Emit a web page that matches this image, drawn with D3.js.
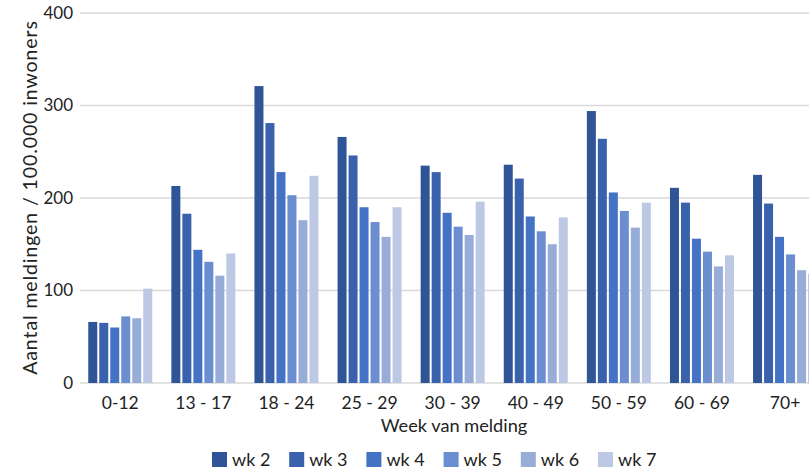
<!DOCTYPE html>
<html>
<head>
<meta charset="utf-8">
<script src="https://cdn.jsdelivr.net/npm/d3@7"></script>
<style>
  html, body { margin: 0; padding: 0; background: #fff; }
  svg { display: block; font-family: Lato, "Open Sans", sans-serif; }
</style>
</head>
<body>
<svg id="chart" width="809" height="469"></svg>
<script>
const categories = ["0-12", "13 - 17", "18 - 24", "25 - 29", "30 - 39", "40 - 49", "50 - 59", "60 - 69", "70+"];
const seriesNames = ["wk 2", "wk 3", "wk 4", "wk 5", "wk 6", "wk 7"];
const wk2 = [66, 213, 321, 266, 235, 236, 294, 211, 225];
const wk3 = [65, 183, 281, 246, 228, 221, 264, 195, 194];
const wk4 = [60, 144, 228, 190, 184, 180, 206, 156, 158];
const wk5 = [72, 131, 203, 174, 169, 164, 186, 142, 139];
const wk6 = [70, 116, 176, 158, 160, 150, 168, 126, 122];
const wk7 = [102, 140, 224, 190, 196, 179, 195, 138, 118];
const seriesValues = [wk2, wk3, wk4, wk5, wk6, wk7];
const colors = ["#2f5597", "#3a62ac", "#4472c4", "#6a8ecf", "#98acd8", "#bdc8e5"];
const yTicks = [0, 100, 200, 300, 400];

const svg = d3.select("#chart");
const plotLeft = 78.7, plotRight = 826.6, plotTop = 13, plotBottom = 383;

const x0 = d3.scaleBand().domain(categories).range([plotLeft, plotRight]).paddingInner(0.23).paddingOuter(0.115);
const x1 = d3.scaleBand().domain(seriesNames).range([0, x0.bandwidth()]).paddingInner(0.182);
const y = d3.scaleLinear().domain([0, 400]).range([plotBottom, plotTop]);

// gridlines
svg.append("g").selectAll("line").data(yTicks).join("line")
  .attr("x1", 80).attr("x2", 809)
  .attr("y1", d => y(d)).attr("y2", d => y(d))
  .attr("stroke", "#d9d9d9").attr("stroke-width", 1.5);

// y axis labels
const yAxis = d3.axisLeft(y).tickValues(yTicks).tickSize(0).tickPadding(0);
const yg = svg.append("g").attr("transform", "translate(73,0)").call(yAxis);
yg.select(".domain").remove();
yg.selectAll("text").attr("font-size", 17).attr("fill", "#222").attr("font-family", "Lato, sans-serif");

// bars
const groups = svg.append("g").selectAll("g").data(categories).join("g")
  .attr("transform", d => `translate(${x0(d)},0)`);
groups.selectAll("rect")
  .data((c, ci) => seriesNames.map((s, si) => ({ s, si, v: seriesValues[si][ci] })))
  .join("rect")
  .attr("x", d => x1(d.s))
  .attr("width", x1.bandwidth())
  .attr("y", d => y(d.v))
  .attr("height", d => y(0) - y(d.v))
  .attr("fill", d => colors[d.si]);

// x axis labels
const xAxis = d3.axisBottom(x0).tickSize(0).tickPadding(0);
const xg = svg.append("g").attr("transform", `translate(0,${plotBottom + 14})`).call(xAxis);
xg.select(".domain").remove();
xg.selectAll("text").attr("font-size", 17.5).attr("fill", "#222").attr("font-family", "Lato, sans-serif");

// axis titles
svg.append("text")
  .attr("x", 454).attr("y", 432)
  .attr("text-anchor", "middle").attr("font-size", 18.2).attr("fill", "#222")
  .text("Week van melding");

svg.append("text")
  .attr("transform", "translate(37,197.5) rotate(-90)")
  .attr("text-anchor", "middle").attr("font-size", 19.5).attr("letter-spacing", 0.9).attr("fill", "#222")
  .text("Aantal meldingen / 100.000 inwoners");

// legend
const legend = svg.append("g").selectAll("g").data(seriesNames).join("g")
  .attr("transform", (d, i) => `translate(${212 + i * 77.2},452)`);
legend.append("rect").attr("width", 15).attr("height", 15).attr("fill", (d, i) => colors[i]);
legend.append("text").attr("x", 20).attr("y", 14).attr("font-size", 18).attr("fill", "#222").text(d => d);
</script>
</body>
</html>
